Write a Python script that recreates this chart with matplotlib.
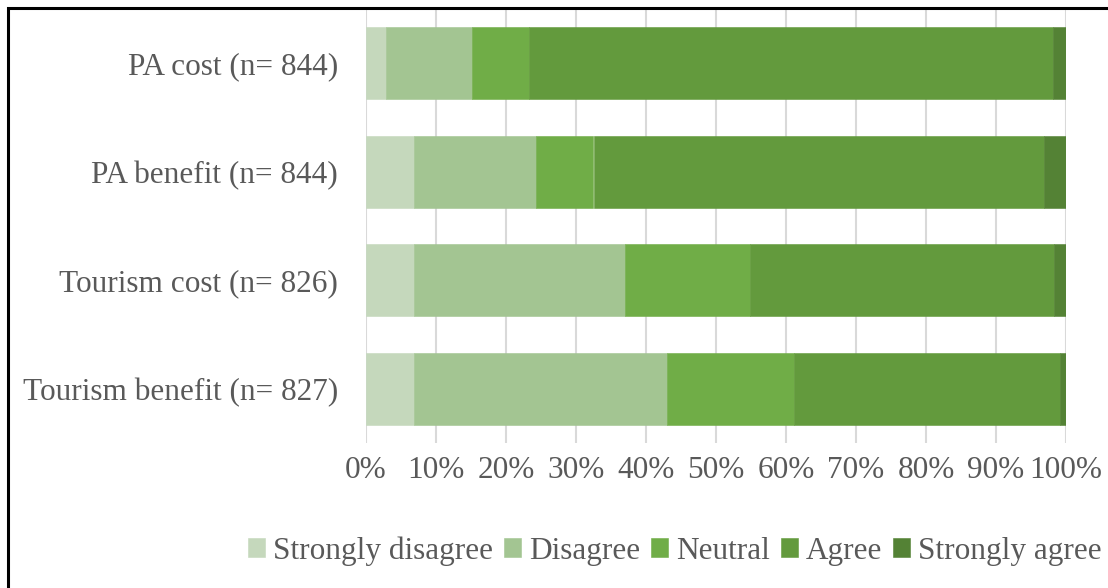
import matplotlib.pyplot as plt
from matplotlib.patches import Rectangle
import numpy as np

# Categories (top to bottom) and percentage of responses per level
categorias = ['PA cost (n= 844)', 'PA benefit (n= 844)',
              'Tourism cost (n= 826)', 'Tourism benefit (n= 827)']
niveis = ['Strongly disagree', 'Disagree', 'Neutral', 'Agree', 'Strongly agree']
strongly_disagree = [2.9, 6.9, 6.9, 6.8]
disagree = [12.2, 17.4, 30.1, 36.2]
neutral = [8.2, 8.2, 17.9, 18.1]
agree = [74.9, 64.4, 43.4, 38.1]
strongly_agree = [1.8, 3.1, 1.7, 0.8]
cores = ['#c5d8bc', '#a3c592', '#70ad47', '#639a3d', '#548235']

plt.rcParams['font.family'] = ['Liberation Serif', 'DejaVu Serif']
cor_texto = '#595959'
tamanho = 22.5

fig = plt.figure(figsize=(11.08, 5.88), dpi=100)
ax = fig.add_axes([366 / 1108, 1 - 443 / 588, 700 / 1108, 434 / 588])

series = [strongly_disagree, disagree, neutral, agree, strongly_agree]
y = np.arange(len(categorias))
esquerda = np.zeros(len(categorias))
for valores, nome, cor in zip(series, niveis, cores):
    valores = np.array(valores)
    ax.barh(y, valores, left=esquerda, height=0.66, color=cor, label=nome,
            edgecolor=cor, linewidth=0.4, zorder=3)
    esquerda += valores

ax.set_xlim(0, 100)
ax.set_ylim(len(categorias) - 0.5, -0.5)
ax.set_yticks(y)
ax.set_yticklabels(categorias)
ax.set_xticks(np.arange(0, 101, 10))
ax.set_xticklabels(['{}%'.format(v) for v in range(0, 101, 10)])
ax.tick_params(length=0, labelsize=tamanho, labelcolor=cor_texto)
ax.tick_params(axis='y', pad=20)
ax.tick_params(axis='x', pad=9)
ax.grid(axis='x', color='#d9d9d9', linewidth=1.5, zorder=0)
for lado in ax.spines.values():
    lado.set_visible(False)

# Legend below the plot area
fig.legend(loc='center', bbox_to_anchor=(675 / 1108, 1 - 551 / 588), ncol=5,
           frameon=False, fontsize=tamanho, labelcolor=cor_texto,
           handlelength=0.55, handleheight=0.55, handletextpad=0.25,
           columnspacing=0.35)

# Frame around the figure
fig.patches.append(Rectangle((8 / 1108, -0.1), 1.2, 1 - 8 / 588 + 0.1,
                             transform=fig.transFigure, fill=False,
                             edgecolor='black', linewidth=2.2))

fig.savefig('out.png', dpi=100)
